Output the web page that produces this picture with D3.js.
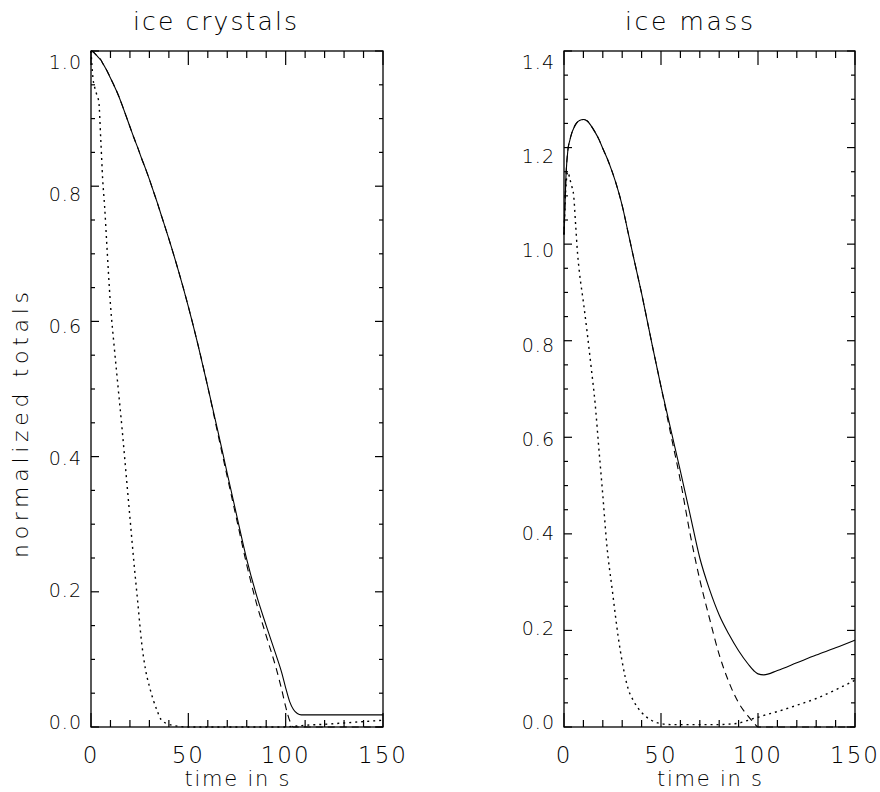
<!DOCTYPE html>
<html>
<head>
<meta charset="utf-8">
<script src="https://cdn.jsdelivr.net/npm/d3@7"></script>
<style>
    body { margin: 0; background: #fff; }
    svg text { font-family: "DejaVu Sans", sans-serif; font-weight: 200; fill: #000; }
</style>
</head>
<body>
<div id="chart"></div>
<script>
// Data
const crystalsTime = [0, 1, 2, 3, 4, 5, 6, 7, 8, 10, 12, 14, 16, 18, 20, 22, 24, 26, 28, 30, 32, 34, 36, 40, 45,
    50, 55, 60, 65, 70, 75, 80, 85, 90, 95, 98, 100, 102, 104, 106, 108, 110, 120, 130, 140, 150];
const crystalsSolid = [1.0, 0.999, 0.996, 0.993, 0.99, 0.987, 0.982, 0.977, 0.972, 0.96, 0.948, 0.935, 0.92, 0.904,
    0.888, 0.872, 0.857, 0.841, 0.826, 0.81, 0.793, 0.776, 0.758, 0.722, 0.674, 0.622, 0.565, 0.503, 0.44, 0.375,
    0.311, 0.248, 0.195, 0.15, 0.107, 0.08, 0.058, 0.038, 0.026, 0.02, 0.018, 0.018, 0.018, 0.018, 0.018, 0.018];
const crystalsDashed = [1.0, 0.999, 0.996, 0.993, 0.99, 0.987, 0.982, 0.977, 0.972, 0.96, 0.948, 0.935, 0.92, 0.904,
    0.888, 0.872, 0.857, 0.841, 0.826, 0.81, 0.793, 0.776, 0.758, 0.722, 0.674, 0.622, 0.565, 0.503, 0.436, 0.37,
    0.305, 0.24, 0.183, 0.135, 0.088, 0.055, 0.03, 0.01, 0, 0, 0, 0, 0, 0, 0, 0];
const crystalsDotted = [1.0, 0.96, 0.945, 0.935, 0.925, 0.87, 0.81, 0.77, 0.72, 0.625, 0.56, 0.5, 0.44, 0.375,
    0.31, 0.245, 0.185, 0.125, 0.085, 0.06, 0.04, 0.024, 0.011, 0.004, 0.001, 0, 0, 0, 0, 0,
    0, 0, 0, 0, 0, 0, 0, 0.0005, 0.001, 0.0015, 0.002, 0.0025, 0.004, 0.006, 0.008, 0.01];

const massTime = [0, 1, 2, 3, 4, 5, 6, 7, 8, 10, 12, 14, 16, 18, 20, 22, 25, 28, 30, 33, 36, 40, 45, 50, 55,
    60, 65, 70, 75, 80, 85, 90, 95, 98, 100, 103, 110, 120, 130, 140, 150];
const massSolid = [1.02, 1.14, 1.195, 1.215, 1.23, 1.24, 1.248, 1.253, 1.256, 1.258, 1.255, 1.245, 1.232, 1.217,
    1.198, 1.18, 1.148, 1.11, 1.08, 1.025, 0.97, 0.898, 0.8, 0.705, 0.617, 0.53, 0.44, 0.35, 0.285, 0.232,
    0.192, 0.158, 0.13, 0.116, 0.11, 0.108, 0.117, 0.133, 0.149, 0.164, 0.18];
const massDashed = [1.02, 1.14, 1.195, 1.215, 1.23, 1.24, 1.248, 1.253, 1.256, 1.258, 1.255, 1.245, 1.232, 1.217,
    1.198, 1.18, 1.148, 1.11, 1.08, 1.025, 0.97, 0.898, 0.8, 0.705, 0.607, 0.51, 0.4, 0.305, 0.225, 0.15,
    0.093, 0.05, 0.022, 0.008, 0, 0, 0, 0, 0, 0, 0];
const massDotted = [1.02, 1.12, 1.15, 1.135, 1.12, 1.1, 1.04, 0.98, 0.94, 0.88, 0.815, 0.745, 0.672, 0.575,
    0.48, 0.38, 0.28, 0.185, 0.135, 0.08, 0.053, 0.03, 0.014, 0.007, 0.005, 0.005, 0.005, 0.005, 0.005, 0.005,
    0.006, 0.008, 0.014, 0.018, 0.02, 0.024, 0.032, 0.045, 0.059, 0.077, 0.097];

const timeTicks = [0, 50, 100, 150];
const crystalsTicks = [0, 0.2, 0.4, 0.6, 0.8, 1.0];
const massTicks = [0, 0.2, 0.4, 0.6, 0.8, 1.0, 1.2, 1.4];

// Line styles (IDL linestyle 0, 2, 1)
const DASHES = { solid: null, dashed: '7,5', dotted: '2,4' };

const WIDTH = 880;
const HEIGHT = 792;

const svg = d3.select('#chart')
    .append('svg')
    .attr('width', WIDTH)
    .attr('height', HEIGHT);

function drawPanel(cfg) {
    const x = d3.scaleLinear().domain([0, 150]).range([cfg.left, cfg.right]);
    const y = d3.scaleLinear().domain([0, cfg.yMax]).range([727, 51]);
    // tick labels sit slightly inside the frame, like IDL draws them
    const yLabel = d3.scaleLinear().domain([0, cfg.yMax]).range([722, 61.5]);

    const g = svg.append('g');

    // frame
    g.append('rect')
        .attr('x', x(0)).attr('y', y(cfg.yMax))
        .attr('width', x(150) - x(0)).attr('height', y(0) - y(cfg.yMax))
        .attr('fill', 'none').attr('stroke', '#000').attr('stroke-width', 1.3);

    const minorX = d3.range(0, 151, 10);
    const minorY = d3.range(0, cfg.yMax + 0.001, 0.05);

    // x ticks, bottom and top, pointing inward
    minorX.forEach(t => {
        const len = t % 50 === 0 ? 14 : 7;
        g.append('line').attr('x1', x(t)).attr('x2', x(t)).attr('y1', y(0)).attr('y2', y(0) - len);
        g.append('line').attr('x1', x(t)).attr('x2', x(t)).attr('y1', y(cfg.yMax)).attr('y2', y(cfg.yMax) + len);
    });
    // y ticks, left and right
    minorY.forEach(v => {
        const major = Math.abs(v / 0.2 - Math.round(v / 0.2)) < 1e-6;
        const len = major ? 8 : 4;
        g.append('line').attr('x1', x(0)).attr('x2', x(0) + len).attr('y1', y(v)).attr('y2', y(v));
        g.append('line').attr('x1', x(150)).attr('x2', x(150) - len).attr('y1', y(v)).attr('y2', y(v));
    });
    g.selectAll('line').attr('stroke', '#000').attr('stroke-width', 1.2);

    // tick labels
    g.selectAll('.xlab')
        .data(timeTicks)
        .join('text')
        .attr('class', 'xlab')
        .attr('x', d => x(d))
        .attr('y', 763)
        .attr('text-anchor', 'middle')
        .attr('font-size', 23)
        .attr('letter-spacing', 2)
        .text(d => d);

    g.selectAll('.ylab')
        .data(cfg.ticks)
        .join('text')
        .attr('class', 'ylab')
        .attr('x', x(0) - 9)
        .attr('y', d => yLabel(d) + 7)
        .attr('text-anchor', 'end')
        .attr('font-size', 19)
        .attr('letter-spacing', 1)
        .text(d => d.toFixed(1));

    // series
    const line = d3.line()
        .x(d => x(d[0]))
        .y(d => y(d[1]))
        .curve(d3.curveMonotoneX);

    cfg.series.forEach(s => {
        g.append('path')
            .datum(d3.zip(cfg.time, s.values))
            .attr('d', line)
            .attr('fill', 'none')
            .attr('stroke', '#000')
            .attr('stroke-width', s.style === 'dotted' ? 1.4 : 1.1)
            .attr('stroke-dasharray', DASHES[s.style]);
    });

    // titles
    g.append('text')
        .attr('x', cfg.titleX)
        .attr('y', 30)
        .attr('text-anchor', 'middle')
        .attr('font-size', 25)
        .attr('textLength', cfg.titleLen)
        .attr('lengthAdjust', 'spacing')
        .text(cfg.title);

    g.append('text')
        .attr('x', (x(0) + x(150)) / 2)
        .attr('y', 786)
        .attr('text-anchor', 'middle')
        .attr('font-size', 21)
        .attr('textLength', 105)
        .attr('lengthAdjust', 'spacing')
        .text('time in s');

    return g;
}

drawPanel({
    left: 91, right: 383, yMax: 1.0, ticks: crystalsTicks,
    title: 'ice crystals', titleX: 215, titleLen: 164,
    time: crystalsTime,
    series: [
        { values: crystalsSolid, style: 'solid' },
        { values: crystalsDashed, style: 'dashed' },
        { values: crystalsDotted, style: 'dotted' }
    ]
});

drawPanel({
    left: 564, right: 855, yMax: 1.4, ticks: massTicks,
    title: 'ice mass', titleX: 689, titleLen: 128,
    time: massTime,
    series: [
        { values: massSolid, style: 'solid' },
        { values: massDashed, style: 'dashed' },
        { values: massDotted, style: 'dotted' }
    ]
});

// shared y title
svg.append('text')
    .attr('transform', 'translate(28,425) rotate(-90)')
    .attr('text-anchor', 'middle')
    .attr('font-size', 22)
    .attr('textLength', 266)
    .attr('lengthAdjust', 'spacing')
    .text('normalized totals');
</script>
</body>
</html>
